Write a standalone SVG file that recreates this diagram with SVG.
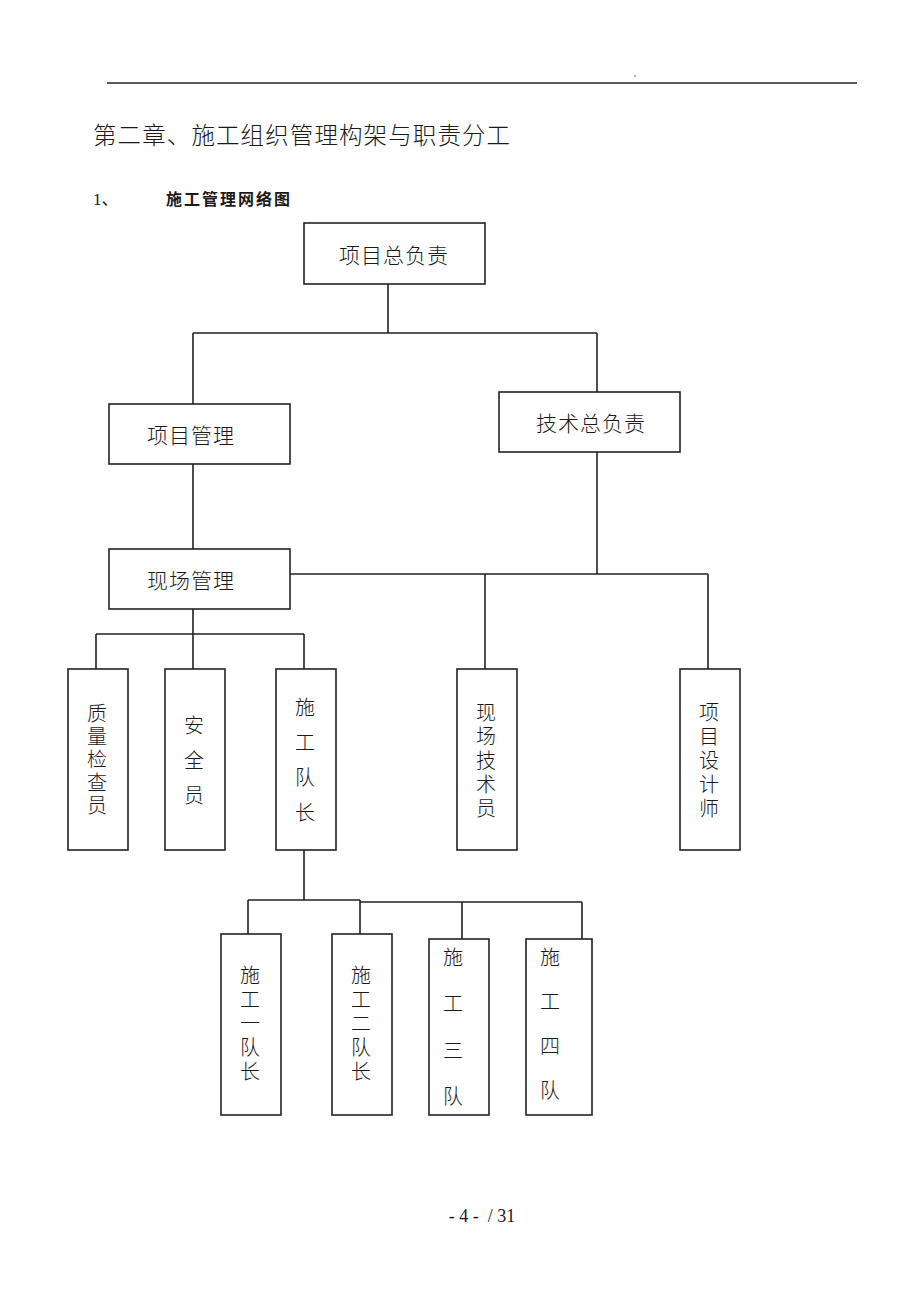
<svg xmlns="http://www.w3.org/2000/svg" width="920" height="1302" viewBox="0 0 920 1302">
<style>
.box{fill:#fff;stroke:#222;stroke-width:1.6}
.ln{fill:none;stroke:#222;stroke-width:1.6}
.t{font-family:"Noto Sans CJK SC","Liberation Serif",serif;font-size:21px;fill:#1a1a1a;text-anchor:middle;font-weight:300}
.v{font-family:"Noto Sans CJK SC","Liberation Serif",serif;font-size:20px;fill:#1a1a1a;font-weight:300;writing-mode:vertical-rl;text-orientation:upright}
.h{font-family:"Noto Sans CJK SC","Liberation Serif",serif;fill:#1a1a1a}
</style>
<rect width="920" height="1302" fill="#fff"/>
<line x1="107" y1="83" x2="857" y2="83" stroke="#222" stroke-width="1.6"/>
<circle cx="635" cy="76" r="0.8" fill="#555"/>
<text class="h" x="93" y="144" font-size="23.5" font-weight="300" letter-spacing="1.1">第二章、施工组织管理构架与职责分工</text>
<text x="93" y="205" font-family="Liberation Serif, serif" font-size="17" fill="#1a1a1a">1<tspan font-family="Noto Sans CJK SC, sans-serif">、</tspan></text>
<text class="h" x="166" y="205" font-size="16" font-weight="700" letter-spacing="2">施工管理网络图</text>
<g id="connectors">
<path class="ln" d="M388 284V333M193 333H597M193 333V404M597 333V392"/>
<path class="ln" d="M193 464V549M597 452V574M290 574H708M485 574V669M708 574V669"/>
<path class="ln" d="M193 609V634M96 634H304M96 634V669M193 634V669M304 634V669"/>
<path class="ln" d="M304 850V900M248 900H360M248 900V934M360 900V934M360 902H582M462 902V939M582 902V939"/>
</g>
<g id="n1"><rect class="box" x="304" y="223" width="181" height="61"/><text class="t" x="394" y="263" letter-spacing="1">项目总负责</text></g>
<g id="n2"><rect class="box" x="109" y="404" width="181" height="60"/><text class="t" x="191" y="443" letter-spacing="1">项目管理</text></g>
<g id="n3"><rect class="box" x="499" y="392" width="181" height="60"/><text class="t" x="591" y="431" letter-spacing="1">技术总负责</text></g>
<g id="n4"><rect class="box" x="109" y="549" width="181" height="60"/><text class="t" x="191" y="588" letter-spacing="1">现场管理</text></g>
<g id="n5"><rect class="box" x="68" y="669" width="60" height="181"/><text class="v" x="97" y="703" letter-spacing="3">质量检查员</text></g>
<g id="n6"><rect class="box" x="165" y="669" width="60" height="181"/><text class="v" x="194" y="715" letter-spacing="15">安全员</text></g>
<g id="n7"><rect class="box" x="276" y="669" width="60" height="181"/><text class="v" x="305" y="697" letter-spacing="15">施工队长</text></g>
<g id="n8"><rect class="box" x="457" y="669" width="60" height="181"/><text class="v" x="486" y="702" letter-spacing="4">现场技术员</text></g>
<g id="n9"><rect class="box" x="680" y="669" width="60" height="181"/><text class="v" x="709" y="702" letter-spacing="4">项目设计师</text></g>
<g id="n10"><rect class="box" x="221" y="934" width="60" height="181"/><text class="v" x="250" y="965" letter-spacing="4">施工一队长</text></g>
<g id="n11"><rect class="box" x="332" y="934" width="60" height="181"/><text class="v" x="361" y="965" letter-spacing="4">施工二队长</text></g>
<g id="n12"><rect class="box" x="429" y="939" width="60" height="176"/><text class="v" x="453" y="947" letter-spacing="26.5">施工三队</text></g>
<g id="n13"><rect class="box" x="526" y="939" width="66" height="176"/><text class="v" x="550" y="947" letter-spacing="24.5">施工四队</text></g>
<text x="482" y="1222" font-family="Liberation Serif, serif" font-size="18" fill="#1a1a1a" text-anchor="middle" xml:space="preserve">- 4 -  / 31</text>
</svg>
